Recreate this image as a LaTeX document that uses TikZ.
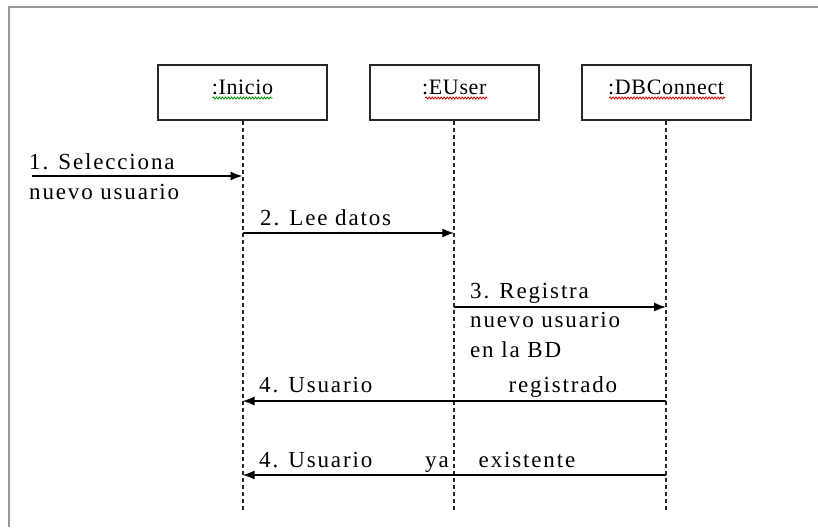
\documentclass[tikz,border=0pt]{standalone}
\usepackage{fontspec}
\setmainfont{Liberation Serif}
\newfontfamily\msgfont[LetterSpace=8]{Liberation Serif}
\newfontfamily\objfont[LetterSpace=3]{Liberation Serif}
\usetikzlibrary{positioning,calc,arrows.meta,decorations.pathmorphing}

\begin{document}
\begin{tikzpicture}[x=1pt,y=-1pt,
    object/.style ={rectangle, draw=black!85, line width=1.8pt, fill=white,
      minimum width=169pt, minimum height=55pt, inner sep=0pt,
      text height=15pt, text depth=12pt,
      font=\objfont\fontsize{22}{26}\selectfont},
    lifeline/.style ={draw=black!85, line width=2pt, dash pattern=on 4pt off 3pt},
    msg/.style ={draw, line width=1.8pt, -{Latex[length=12pt,width=9pt]}},
    msgtext/.style ={anchor=base west, inner sep=0pt, align=left,
      font=\msgfont\fontsize{23}{29.5}\selectfont},
    spell/.style ={line width=0.8pt, decorate,
      decoration={snake, amplitude=1pt, segment length=3pt}}]
  \useasboundingbox (0,0) rectangle (818,527);
  % frame
  \draw[black!40, line width=1.8pt] (818,7) -| (9,527);
  % objects
  \node [object] (inicio) at (242.5,92.5) {:Inicio};
  \node [object, right=41pt of inicio] (euser) {:EUser};
  \node [object, right=41pt of euser] (dbconnect) {:DBConnect};
  % spelling marks
  \draw[spell, green!55!black] ($(inicio.base)+(-30,4)$) -- ($(inicio.base)+(30,4)$);
  \draw[spell, red!80!black] ($(euser.base)+(-29,4)$) -- ($(euser.base)+(33,4)$);
  \draw[spell, red!80!black] ($(dbconnect.base)+(-57,4)$) -- ($(dbconnect.base)+(59,4)$);
  % lifelines
  \coordinate (lifeend) at (0,512);
  \foreach \obj in {inicio,euser,dbconnect}
    \draw[lifeline] (\obj.south) -- (\obj |- lifeend);
  % messages
  \coordinate (user) at (32,176);
  \coordinate (m2) at (0,233);
  \coordinate (m3) at (0,307);
  \coordinate (m4) at (0,401);
  \coordinate (m5) at (0,475);
  \draw[msg] (user) -- (user -| inicio);
  \draw[msg] (inicio |- m2) -- (euser |- m2);
  \draw[msg] (euser |- m3) -- (dbconnect |- m3);
  \draw[msg] (dbconnect |- m4) -- (inicio |- m4);
  \draw[msg] (dbconnect |- m5) -- (inicio |- m5);
  % message texts (base = last line)
  \node[msgtext] (t1) at (29,199) {1. Selecciona\\nuevo usuario};
  \node[msgtext] (t2) at (260,225) {2. Lee datos};
  \node[msgtext] (t3) at (470,357) {3. Registra\\nuevo usuario\\en la BD};
  \node[msgtext] (t4) at (259,392) {\hbox to 358pt{4. Usuario\hfill registrado}};
  \node[msgtext] (t5) at (259,467) {\hbox to 316pt{4. Usuario\hfill ya\hspace{30pt}existente}};
\end{tikzpicture}
\end{document}
